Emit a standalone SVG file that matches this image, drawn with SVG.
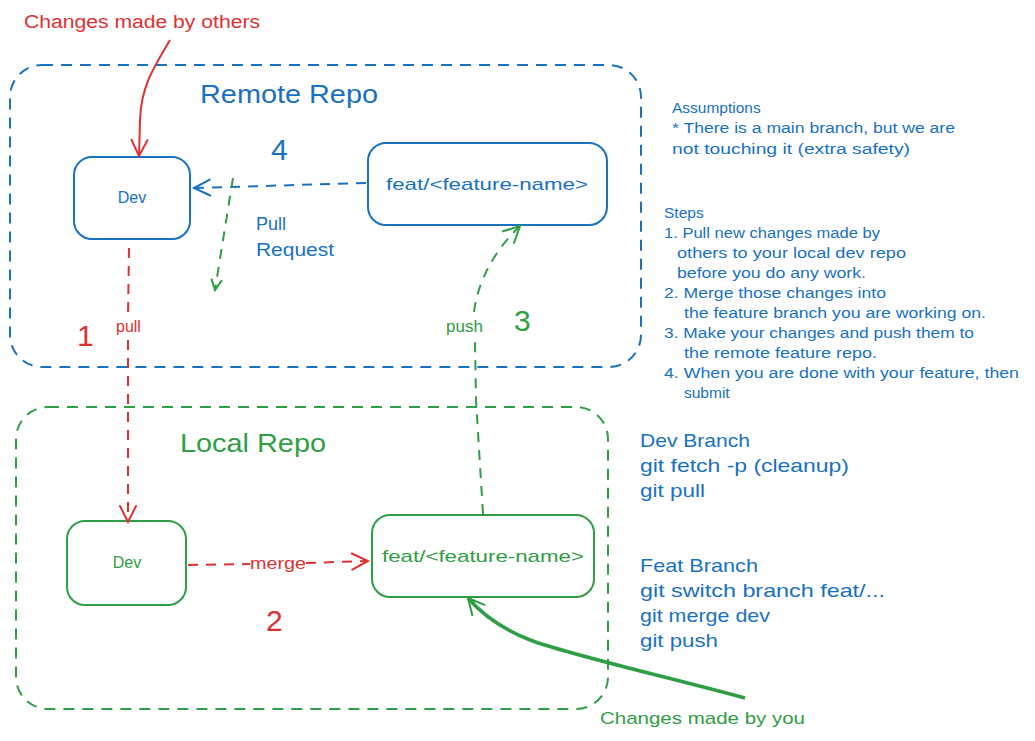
<svg xmlns="http://www.w3.org/2000/svg" width="1035" height="741" viewBox="0 0 1035 741">
<style>
text{font-family:"Liberation Sans",Arial,sans-serif}
.b{fill:#1971c2}.g{fill:#2f9e44}.r{fill:#e03131}
.box{fill:none;stroke-width:2;stroke-dasharray:11 8}
.node{fill:#fff;stroke-width:2}
.num{font-size:30px}
.note{font-size:15.5px}
.cmd{font-size:19px}
</style>
<defs>
<marker id="ab" markerUnits="userSpaceOnUse" orient="auto" markerWidth="30" markerHeight="30" refX="0" refY="0" viewBox="-20 -15 30 30" overflow="visible"><path d="M-16 -8 L0 0 L-16 8" fill="none" stroke="#1971c2" stroke-width="2" stroke-linecap="round"/></marker>
<marker id="ag" markerUnits="userSpaceOnUse" orient="auto" markerWidth="30" markerHeight="30" refX="0" refY="0" viewBox="-20 -15 30 30" overflow="visible"><path d="M-16 -8 L0 0 L-16 8" fill="none" stroke="#2f9e44" stroke-width="2" stroke-linecap="round"/></marker>
<marker id="ags" markerUnits="userSpaceOnUse" orient="auto" markerWidth="30" markerHeight="30" refX="0" refY="0" viewBox="-20 -15 30 30" overflow="visible"><path d="M-10 -5 L0 0 L-10 5" fill="none" stroke="#2f9e44" stroke-width="2" stroke-linecap="round"/></marker>
<marker id="ar" markerUnits="userSpaceOnUse" orient="auto" markerWidth="30" markerHeight="30" refX="0" refY="0" viewBox="-20 -15 30 30" overflow="visible"><path d="M-16 -8 L0 0 L-16 8" fill="none" stroke="#e03131" stroke-width="2" stroke-linecap="round"/></marker>
</defs>
<rect width="1035" height="741" fill="#fff"/>

<g id="remote-repo">
<rect class="box" x="10" y="65" width="631" height="302" rx="32" stroke="#1971c2"/>
<text class="b" x="200" y="103" font-size="26" textLength="178" lengthAdjust="spacingAndGlyphs">Remote Repo</text>
</g>
<g id="local-repo">
<rect class="box" x="16" y="407" width="592" height="302" rx="32" stroke="#2f9e44"/>
<text class="g" x="180" y="452" font-size="26" textLength="146" lengthAdjust="spacingAndGlyphs">Local Repo</text>
</g>

<g id="remote-dev">
<rect class="node" x="74" y="157" width="116" height="82" rx="18" stroke="#1971c2"/>
<text class="b" x="132" y="203" font-size="16" text-anchor="middle">Dev</text>
</g>
<g id="remote-feat">
<rect class="node" x="368" y="143" width="239" height="82" rx="18" stroke="#1971c2"/>
<text class="b" x="487" y="190" font-size="17" text-anchor="middle" textLength="202" lengthAdjust="spacingAndGlyphs">feat/&lt;feature-name&gt;</text>
</g>
<g id="local-dev">
<rect class="node" x="67" y="521" width="119" height="84" rx="18" stroke="#2f9e44"/>
<text class="g" x="127" y="568" font-size="16" text-anchor="middle">Dev</text>
</g>
<g id="local-feat">
<rect class="node" x="372" y="515" width="222" height="82" rx="18" stroke="#2f9e44"/>
<text class="g" x="483" y="562" font-size="17" text-anchor="middle" textLength="202" lengthAdjust="spacingAndGlyphs">feat/&lt;feature-name&gt;</text>
</g>

<g id="connectors" fill="none" stroke-width="2">
<path d="M170 40 C152 70 141 88 140 120 L139 156" stroke="#e03131" marker-end="url(#ar)"/>
<path d="M366 183 L194 188" stroke="#1971c2" stroke-dasharray="10 8" marker-end="url(#ab)"/>
<path d="M233 178 L215 290" stroke="#2f9e44" stroke-dasharray="10 8" marker-end="url(#ags)"/>
<path d="M129 248 L128 318 M128 340 L128 522" stroke="#e03131" stroke-dasharray="10 8" marker-end="url(#ar)"/>
<path d="M188 565 L250 564 M306 563 L368 561" stroke="#e03131" stroke-dasharray="10 8" marker-end="url(#ar)"/>
<path d="M483 514 L476 400 L475 340 M474 312 C478 280 495 250 520 226" stroke="#2f9e44" stroke-dasharray="10 8" marker-end="url(#ag)"/>
<path d="M745 698 C660 675 570 655 530 640 C500 628 480 612 468 598" stroke="#2f9e44" stroke-width="3.5" marker-end="url(#ag)"/>
</g>

<g id="labels">
<text class="r" x="24" y="28" font-size="18" textLength="236" lengthAdjust="spacingAndGlyphs">Changes made by others</text>
<text class="b num" x="271" y="160">4</text>
<text class="b" x="256" y="230" font-size="18">Pull</text>
<text class="b" x="256" y="256" font-size="18" textLength="78" lengthAdjust="spacingAndGlyphs">Request</text>
<text class="r num" x="77" y="346">1</text>
<text class="r" x="116" y="332" font-size="16">pull</text>
<text class="g" x="446" y="332" font-size="17">push</text>
<text class="g num" x="514" y="331">3</text>
<text class="r" x="250" y="569" font-size="16" textLength="56" lengthAdjust="spacingAndGlyphs">merge</text>
<text class="r num" x="266" y="631">2</text>
<text class="g" x="600" y="724" font-size="17" textLength="205" lengthAdjust="spacingAndGlyphs">Changes made by you</text>
</g>

<g id="notes" class="b">
<text class="note" x="672" y="113">Assumptions</text>
<text class="note" x="672" y="133" textLength="283" lengthAdjust="spacingAndGlyphs">* There is a main branch, but we are</text>
<text class="note" x="672" y="154" textLength="238" lengthAdjust="spacingAndGlyphs">not touching it (extra safety)</text>
<text class="note" x="664" y="218">Steps</text>
<text class="note" x="664" y="238" textLength="216" lengthAdjust="spacingAndGlyphs">1. Pull new changes made by</text>
<text class="note" x="677" y="258" textLength="229" lengthAdjust="spacingAndGlyphs">others to your local dev repo</text>
<text class="note" x="677" y="278" textLength="189" lengthAdjust="spacingAndGlyphs">before you do any work.</text>
<text class="note" x="664" y="298" textLength="222" lengthAdjust="spacingAndGlyphs">2. Merge those changes into</text>
<text class="note" x="684" y="318" textLength="302" lengthAdjust="spacingAndGlyphs">the feature branch you are working on.</text>
<text class="note" x="664" y="338" textLength="310" lengthAdjust="spacingAndGlyphs">3. Make your changes and push them to</text>
<text class="note" x="684" y="358" textLength="193" lengthAdjust="spacingAndGlyphs">the remote feature repo.</text>
<text class="note" x="664" y="378" textLength="355" lengthAdjust="spacingAndGlyphs">4. When you are done with your feature, then</text>
<text class="note" x="684" y="398">submit</text>
</g>

<g id="commands" class="b">
<text class="cmd" x="640" y="447" textLength="110" lengthAdjust="spacingAndGlyphs">Dev Branch</text>
<text class="cmd" x="640" y="472" textLength="209" lengthAdjust="spacingAndGlyphs">git fetch -p (cleanup)</text>
<text class="cmd" x="640" y="497" textLength="65" lengthAdjust="spacingAndGlyphs">git pull</text>
<text class="cmd" x="640" y="572" textLength="118" lengthAdjust="spacingAndGlyphs">Feat Branch</text>
<text class="cmd" x="640" y="597" textLength="245" lengthAdjust="spacingAndGlyphs">git switch branch feat/...</text>
<text class="cmd" x="640" y="622" textLength="130" lengthAdjust="spacingAndGlyphs">git merge dev</text>
<text class="cmd" x="640" y="647" textLength="78" lengthAdjust="spacingAndGlyphs">git push</text>
</g>
</svg>
